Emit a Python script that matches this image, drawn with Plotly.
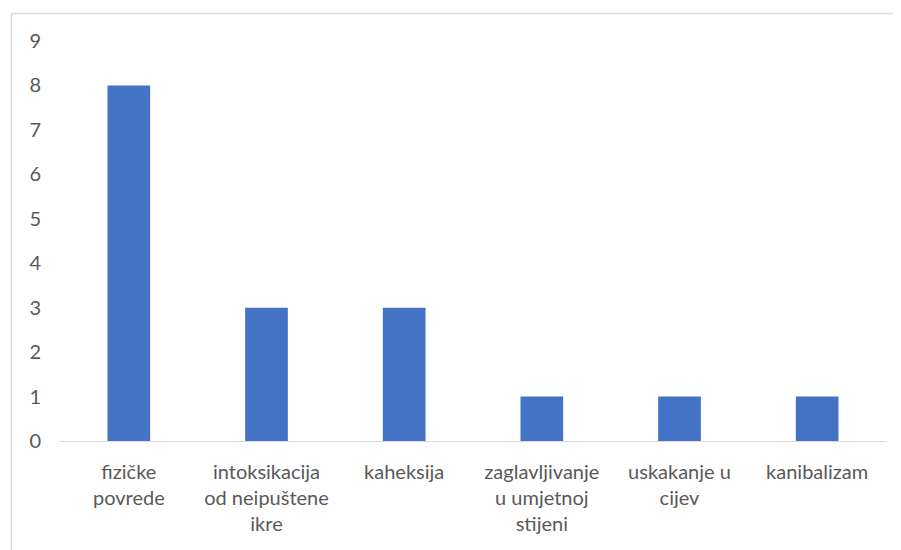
import plotly.graph_objects as go

categories = [
    "fizičke<br>povrede",
    "intoksikacija<br>od neipuštene<br>ikre",
    "kaheksija",
    "zaglavljivanje<br>u umjetnoj<br>stijeni",
    "uskakanje u<br>cijev",
    "kanibalizam",
]
values = [8, 3, 3, 1, 1, 1]
y_ticks = [0, 1, 2, 3, 4, 5, 6, 7, 8, 9]

W, H = 901, 550
OFF = 8  # page body margin
L, R, T, B = 60 - OFF, 23, 41 - OFF, 117
pw, ph = W - L - R, H - T - B

def px(x):
    return (x - OFF - L) / pw

def py(y):
    return (H - B - (y - OFF)) / ph

fig = go.Figure(go.Bar(x=categories, y=values, marker_color="#4472C4",
                       marker_line_width=0))

font = dict(family="Lato, 'Open Sans', sans-serif", size=20, color="#595959")

fig.update_layout(
    width=W, height=H,
    margin=dict(l=L, r=R, t=T, b=B),
    paper_bgcolor="white", plot_bgcolor="white",
    bargap=0.69,
    font=font,
    showlegend=False,
    xaxis=dict(showgrid=False, showline=True, linecolor="#d9d9d9", linewidth=1,
               ticks="outside", ticklen=13, tickcolor="rgba(0,0,0,0)",
               tickfont=font, zeroline=False),
    yaxis=dict(range=[0, 9], tickvals=y_ticks, showgrid=False, zeroline=False,
               showline=False, ticks="outside", ticklen=14,
               tickcolor="rgba(0,0,0,0)", tickfont=font),
    shapes=[
        dict(type="line", xref="paper", yref="paper",
             x0=px(11), x1=px(910), y0=py(13.5), y1=py(13.5),
             line=dict(color="#d9d9d9", width=1.5)),
        dict(type="line", xref="paper", yref="paper",
             x0=px(11.5), x1=px(11.5), y0=py(13), y1=py(560),
             line=dict(color="#d9d9d9", width=1.5)),
    ],
)

fig.write_html("out.html")
